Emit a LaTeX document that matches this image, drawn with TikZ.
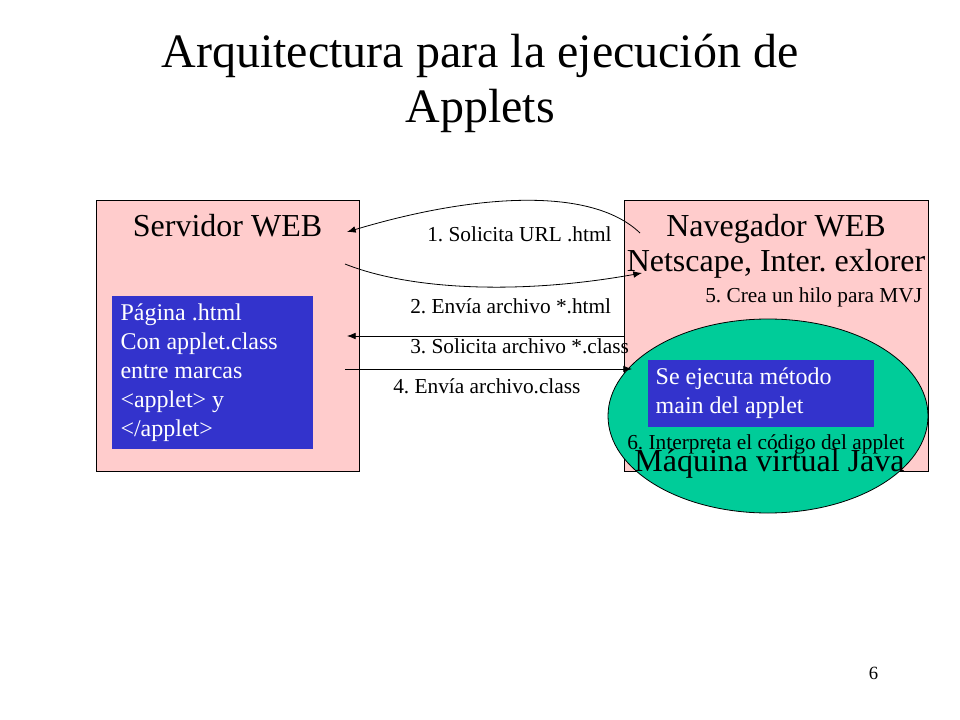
\documentclass[tikz,border=0pt]{standalone}
\usepackage{fontspec}
\setmainfont{Liberation Serif}
\usetikzlibrary{shapes.geometric,arrows.meta}
\definecolor{rosa}{RGB}{255,204,204}
\definecolor{azul}{RGB}{51,51,204}
\definecolor{verde}{RGB}{0,204,153}
\frenchspacing
\begin{document}
\begin{tikzpicture}[x=0.75pt,y=-0.75pt,
      caja/.style={draw,fill=rosa,line width=0.6pt,inner sep=0pt},
      bloque/.style={fill=azul,text=white,inner sep=0pt,align=flush left,
        font=\fontsize{18}{21.75}\selectfont},
      rotulo/.style={inner sep=0pt,anchor=base west,font=\fontsize{16}{18}\selectfont},
      grande/.style={inner sep=0pt,anchor=base,font=\fontsize{24}{26.25}\selectfont},
      flecha/.style={line width=0.6pt,-{Latex[length=6.5pt,width=5pt]}}]
    \useasboundingbox (0,0) rectangle (960,720);
    % titulo
    \node[inner sep=0pt,anchor=base,font=\fontsize{36}{41}\selectfont] (tit1) at (480,68) {Arquitectura para la ejecución de};
    \node[inner sep=0pt,anchor=base,font=\fontsize{36}{41}\selectfont] (tit2) at (480,123) {Applets};
    % cajas
    \node[caja,minimum width=197.25pt,minimum height=203.25pt] (srv) at (227.5,335.5) {};
    \node[caja,minimum width=228pt,minimum height=203.25pt] (nav) at (776,335.5) {};
    \node[bloque,minimum width=150.75pt,minimum height=114.75pt,text width=138pt] (pag) at (212.5,372.5)
      {Página .html\\Con applet.class\\entre marcas\\\textless applet\textgreater{} y\\\textless/applet\textgreater};
    \node[ellipse,draw,fill=verde,line width=0.6pt,inner sep=0pt,minimum width=240pt,minimum height=145.5pt] (mvj) at (768,416) {};
    \node[bloque,minimum width=169.5pt,minimum height=50.25pt,text width=158pt] (met) at (761,393.5)
      {Se ejecuta método\\main del applet};
    \node[grande] (srvt) at (227.5,237) {Servidor WEB};
    \node[grande] (navt) at (776,237) {Navegador WEB};
    \node[grande] (nett) at (776,272) {Netscape, Inter. exlorer};
    \node[grande] (mvjt) at (769.5,471) {Máquina virtual Java};
    % pasos
    \node[rotulo] (p1) at (427,242) {1. Solicita URL .html};
    \node[rotulo] (p2) at (410,314) {2. Envía archivo *.html};
    \node[rotulo] (p3) at (410,353) {3. Solicita archivo *.class};
    \node[rotulo] (p4) at (393,393) {4. Envía archivo.class};
    \node[rotulo] (p5) at (705,302) {5. Crea un hilo para MVJ};
    \node[rotulo] (p6) at (627,449) {6. Interpreta el código del applet};
    \node[inner sep=0pt,anchor=base,font=\fontsize{14}{16}\selectfont] (num) at (873.5,679) {6};
    % conectores
    \coordinate (a1) at (640,233);
    \coordinate (b1) at (347,232);
    \coordinate (a2) at (345,264);
    \coordinate (b2) at (642,273);
    \coordinate (b3) at (347,336);
    \coordinate (a4) at (345,369);
    \coordinate (b4) at (632,369);
    \draw[flecha] (a1) .. controls (590,185) and (470,195) .. (b1);
    \draw[flecha] (a2) .. controls (410,290) and (520,295) .. (b2);
    \draw[flecha] (nav.west |- b3) -- (b3);
    \draw[flecha] (a4) -- (b4);
\end{tikzpicture}
\end{document}
